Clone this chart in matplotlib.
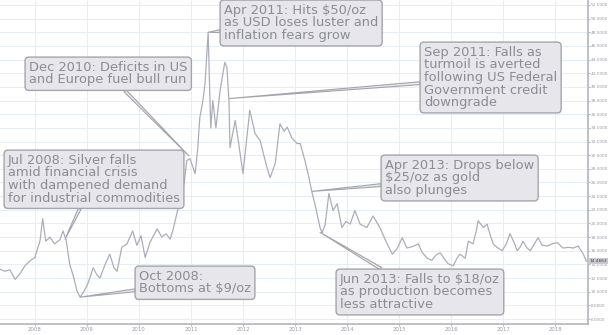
import matplotlib
matplotlib.use("Agg")
import matplotlib.pyplot as plt

# ---- data (decimal year, USD/oz) ----
dates = [2007.33, 2007.42, 2007.52, 2007.62, 2007.71, 2007.81, 2007.90, 2008.00, 2008.10, 2008.15,
         2008.21, 2008.29, 2008.38, 2008.48, 2008.54, 2008.60, 2008.67, 2008.75, 2008.81, 2008.87,
         2008.94, 2009.02, 2009.12, 2009.19, 2009.25, 2009.35, 2009.44, 2009.52, 2009.58, 2009.67,
         2009.77, 2009.88, 2009.96, 2010.04, 2010.12, 2010.21, 2010.35, 2010.44, 2010.52, 2010.60,
         2010.65, 2010.73, 2010.79, 2010.87, 2010.92, 2010.98, 2011.08, 2011.13, 2011.17, 2011.23,
         2011.27, 2011.33, 2011.38, 2011.42, 2011.48, 2011.56, 2011.65, 2011.69, 2011.73, 2011.75,
         2011.85, 2011.90, 2012.00, 2012.08, 2012.13, 2012.23, 2012.33, 2012.40, 2012.46, 2012.52,
         2012.62, 2012.71, 2012.79, 2012.85, 2012.94, 2013.04, 2013.10, 2013.19, 2013.25, 2013.33,
         2013.38, 2013.48, 2013.52, 2013.58, 2013.65, 2013.73, 2013.81, 2013.90, 2013.98, 2014.06,
         2014.15, 2014.25, 2014.38, 2014.50, 2014.63, 2014.77, 2014.87, 2014.96, 2015.06, 2015.15,
         2015.25, 2015.37, 2015.44, 2015.54, 2015.63, 2015.71, 2015.79, 2015.87, 2015.94, 2016.04,
         2016.12, 2016.17, 2016.27, 2016.33, 2016.42, 2016.48, 2016.52, 2016.62, 2016.69, 2016.75,
         2016.81, 2016.88, 2016.98, 2017.06, 2017.13, 2017.21, 2017.27, 2017.33, 2017.38, 2017.46,
         2017.52, 2017.60, 2017.67, 2017.75, 2017.85, 2017.94, 2018.04, 2018.15, 2018.25, 2018.35,
         2018.44, 2018.54, 2018.60]
prices = [13.3, 13.0, 13.2, 11.8, 12.6, 13.8, 14.5, 15.0, 17.5, 20.7,
          17.4, 18.0, 17.0, 17.6, 18.9, 17.6, 14.0, 12.0, 10.1, 9.2,
          10.0, 11.2, 13.5, 12.5, 12.0, 14.0, 15.5, 13.5, 13.0, 16.5,
          17.0, 18.9, 16.8, 18.2, 15.0, 17.2, 19.2, 18.0, 18.5, 17.7,
          18.9, 21.5, 23.3, 26.0, 29.2, 29.5, 27.3, 31.0, 35.5, 38.0,
          40.5, 48.0, 34.0, 38.0, 34.0, 39.5, 43.6, 42.9, 38.0, 31.1,
          35.1, 32.6, 27.3, 33.0, 36.6, 33.2, 32.1, 30.0, 28.2, 26.7,
          28.8, 34.6, 33.5, 34.1, 32.5, 31.7, 31.7, 29.2, 27.3, 24.4,
          22.9, 19.4, 18.6, 19.9, 24.4, 21.9, 22.9, 19.4, 20.3, 19.9,
          21.9, 19.9, 19.4, 21.1, 19.4, 17.0, 15.5, 16.3, 17.9, 16.4,
          16.6, 17.0, 15.8, 14.9, 14.6, 15.4, 15.7, 14.8, 14.1, 13.8,
          15.0, 15.5, 14.9, 17.4, 17.0, 18.8, 20.4, 19.4, 19.9, 18.3,
          17.0, 16.5, 16.0, 17.0, 18.5, 17.2, 16.0, 16.6, 17.4, 16.4,
          16.0, 17.0, 17.9, 16.8, 16.7, 17.0, 17.2, 16.4, 16.5, 16.4,
          16.7, 15.5, 14.47]
last_price_label = "14.4663"
year_ticks = list(range(2008, 2019))
price_ticks = list(range(6, 53, 2))

notes = [
    "Apr 2011: Hits $50/oz\nas USD loses luster and\ninflation fears grow",
    "Dec 2010: Deficits in US\nand Europe fuel bull run",
    "Sep 2011: Falls as\nturmoil is averted\nfollowing US Federal\nGovernment credit\ndowngrade",
    "Jul 2008: Silver falls\namid financial crisis\nwith dampened demand\nfor industrial commodities",
    "Oct 2008:\nBottoms at $9/oz",
    "Apr 2013: Drops below\n$25/oz as gold\nalso plunges",
    "Jun 2013: Falls to $18/oz\nas production becomes\nless attractive",
]
note_dates = [2011.33, 2010.96, 2011.74, 2008.58, 2008.87, 2013.33, 2013.48]
note_prices = [48.0, 29.9, 38.3, 17.7, 9.2, 24.7, 18.7]
# text anchor (top-left of text) in figure pixels from top-left
note_pos = [(224, 4), (29, 61), (424, 46), (8, 154), (139, 270), (385, 159), (340, 273)]

W, H = 609, 335
fig = plt.figure(figsize=(W / 100, H / 100), dpi=100)
fig.patch.set_facecolor("white")
ax = fig.add_axes([0, 11 / H, 588 / W, 1 - 11 / H])

ax.set_xlim(2007.33, 2018.63)
ax.set_ylim(5.27, 52.73)
ax.set_xticks(year_ticks)
ax.set_xticklabels([str(y) for y in year_ticks])
ax.set_yticks(price_ticks)
ax.set_yticklabels([f"{v:.4f}" for v in price_ticks])
ax.yaxis.tick_right()
ax.tick_params(axis="y", labelsize=3.1, colors="#9a9aa4", length=1.2, width=0.5, pad=0.6)
ax.tick_params(axis="x", labelsize=3.9, colors="#9a9aa4", length=1.5, width=0.5, pad=0.8)
ax.grid(True, color="#e6eef4", linewidth=0.7)
ax.set_axisbelow(True)
for s in ["top", "left"]:
    ax.spines[s].set_visible(False)
for s in ["right", "bottom"]:
    ax.spines[s].set_color("#b4b4bc")
    ax.spines[s].set_linewidth(1.2)

ax.plot(dates, prices, color="#adadba", linewidth=0.9)

# last price label on axis
ax.annotate(last_price_label, xy=(1.0, prices[-1]), xycoords=("axes fraction", "data"),
            xytext=(1.0, 0), textcoords="offset points", va="center", ha="left",
            fontsize=3.1, color="#44444c",
            bbox=dict(boxstyle="square,pad=0.3", fc="#c9c9d2", ec="none"),
            annotation_clip=False)

for txt, d, p, (px, py) in zip(notes, note_dates, note_prices, note_pos):
    ax.annotate(txt, xy=(d, p), xycoords="data",
                xytext=(px, H - py), textcoords="figure pixels",
                ha="left", va="top", fontsize=9.4, color="#8c8c94", linespacing=0.95,
                bbox=dict(boxstyle="round,pad=0.3,rounding_size=0.3", fc="#e6e6eb", ec="#a4a4ac", lw=1.0),
                arrowprops=dict(arrowstyle="wedge,tail_width=0.22,shrink_factor=0.5",
                                fc="#e6e6eb", ec="#a4a4ac", lw=0.8,
                                shrinkA=0, shrinkB=0))

fig.savefig("out.png", dpi=100, facecolor="white")
